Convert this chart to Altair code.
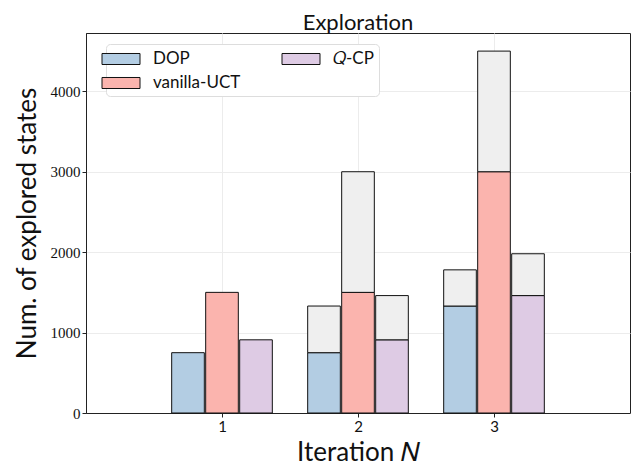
import altair as alt
import pandas as pd

iterations = [1, 2, 3]
methods = ["DOP", "vanilla-UCT", "𝑄-CP"]
offsets = [-0.25, 0.0, 0.25]
colors = ["#b3cde3", "#fbb4ae", "#decbe4"]
base_values = {
    "DOP": [750, 750, 1330],
    "vanilla-UCT": [1500, 1500, 3000],
    "𝑄-CP": [910, 910, 1460],
}
total_values = {
    "DOP": [750, 1330, 1780],
    "vanilla-UCT": [1500, 3000, 4500],
    "𝑄-CP": [910, 1460, 1980],
}
bar_width = 0.24
y_ticks = [0, 1000, 2000, 3000, 4000]
x_ticks = [1, 2, 3]

rows = []
for m, off in zip(methods, offsets):
    for i, it in enumerate(iterations):
        rows.append({
            "method": m,
            "x0": it + off - bar_width / 2,
            "x1": it + off + bar_width / 2,
            "base": base_values[m][i],
            "total": total_values[m][i],
        })
df = pd.DataFrame(rows)
extra = df[df["total"] > df["base"]]

sans = "Lato"
serif = "Liberation Serif"

xscale = alt.Scale(domain=[0, 4], nice=False, zero=False)
yscale = alt.Scale(domain=[0, 4725], nice=False)

color_scale = alt.Scale(domain=methods, range=colors)

base = alt.Chart(df).mark_bar(stroke="#111", strokeWidth=1).encode(
    x=alt.X("x0:Q", scale=xscale,
            axis=alt.Axis(values=x_ticks, title="Iteration 𝑁", format="d",
                          labelFont=sans)),
    x2="x1:Q",
    y=alt.Y("base:Q", scale=yscale,
            axis=alt.Axis(values=y_ticks, title="Num. of explored states",
                          format="d")),
    y2=alt.datum(0),
    color=alt.Color("method:N", scale=color_scale,
                    legend=alt.Legend(
                        title=None, orient="none", legendX=20, legendY=11,
                        values=methods,
                        columns=2, columnPadding=39, rowPadding=6,
                        symbolType="M-2,-0.58L2,-0.58L2,0.58L-2,0.58Z",
                        symbolSize=361, symbolStrokeColor="#111",
                        symbolStrokeWidth=1, symbolOpacity=1,
                        labelFont=sans, labelFontSize=17, labelOffset=22,
                        labelColor="#111",
                        padding=5, fillColor="white", strokeColor="#dddddd",
                        cornerRadius=4)),
)

gray = alt.Chart(extra).mark_bar(stroke="#111", strokeWidth=1, color="#efefef").encode(
    x=alt.X("x0:Q", scale=xscale),
    x2="x1:Q",
    y=alt.Y("base:Q", scale=yscale),
    y2="total:Q",
)

chart = alt.layer(base, gray).properties(
    width=544, height=380,
    title=alt.TitleParams("Exploration", font=sans, fontSize=22,
                          fontWeight="normal", color="#111", offset=-2),
    autosize=alt.AutoSizeParams(type="none"),
    padding={"left": 78, "top": 25, "right": 1, "bottom": 52},
).configure_view(stroke="#222", strokeWidth=1).configure_axis(
    labelFont=serif, labelFontSize=15, labelColor="#111",
    titleFont=sans, titleFontSize=26, titleFontWeight="normal", titleColor="#111",
    gridColor="#ececec", gridWidth=1, domainColor="#222", tickColor="#222",
    tickSize=4, labelPadding=2,
).configure_axisY(titlePadding=10).configure_axisX(titlePadding=5)

chart.save("out.html", embed_options={"renderer": "svg", "actions": False})
